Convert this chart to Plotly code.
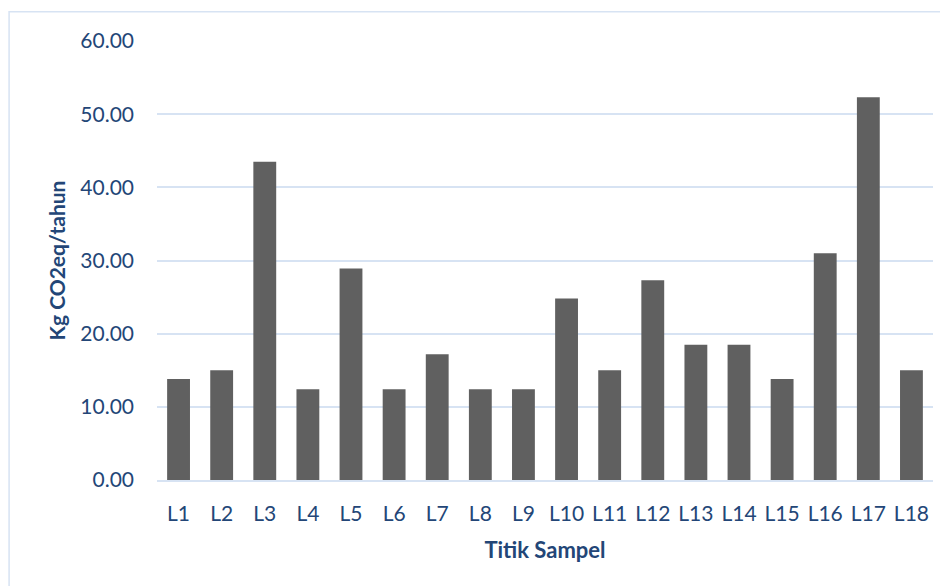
import plotly.graph_objects as go

categories = ["L1", "L2", "L3", "L4", "L5", "L6", "L7", "L8", "L9",
              "L10", "L11", "L12", "L13", "L14", "L15", "L16", "L17", "L18"]
values = [13.8, 15.0, 43.5, 12.4, 28.9, 12.4, 17.2, 12.4, 12.4,
          24.8, 15.0, 27.3, 18.5, 18.5, 13.8, 31.0, 52.3, 15.0]
y_ticks = [0, 10, 20, 30, 40, 50, 60]
y_ticktext = [f"{v:.2f}" for v in y_ticks]

text_color = "#234677"
grid_color = "#d7e3f3"
font_family = "Lato, 'Open Sans', sans-serif"

fig = go.Figure(go.Bar(
    x=categories, y=values,
    marker=dict(color="#606060", line=dict(width=0)),
))

# page body has an 8px margin; figure is sized to fit inside it
W, H = 940, 578
ml, mr, mt, mb = 149, 14.5, 33.3, 105.5
pw, ph = W - ml - mr, H - mt - mb

fx0 = (1 - ml) / pw
fy_top = (H - mb - 4) / ph
fy_bot = -(mb + 50) / ph
fx1 = (W + 20 - ml) / pw

fig.update_layout(
    width=W, height=H,
    margin=dict(l=ml, r=mr, t=mt, b=mb),
    paper_bgcolor="white", plot_bgcolor="white",
    bargap=0.47,
    showlegend=False,
    font=dict(family=font_family, color=text_color, size=21),
    xaxis=dict(
        showgrid=False, showline=True, linecolor=grid_color, linewidth=2,
        ticks="", ticklabelstandoff=14,
        tickfont=dict(size=21, color=text_color),
        title=dict(text="<b>Titik Sampel</b>", standoff=18,
                   font=dict(size=22, color=text_color)),
    ),
    yaxis=dict(
        range=[0, 60], tickvals=y_ticks, ticktext=y_ticktext,
        showgrid=True, gridcolor=grid_color, gridwidth=2,
        zeroline=False, showline=False, ticks="",
        ticklabelstandoff=22,
        tickfont=dict(size=21, color=text_color),
        title=dict(text="<b>Kg CO2eq/tahun</b>", standoff=8,
                   font=dict(size=21, color=text_color)),
    ),
    shapes=[dict(
        type="path", xref="paper", yref="paper",
        path=f"M {fx0} {fy_bot} L {fx0} {fy_top} L {fx1} {fy_top}",
        line=dict(color=grid_color, width=1.5), layer="below",
    )],
)

fig.write_html("out.html")
